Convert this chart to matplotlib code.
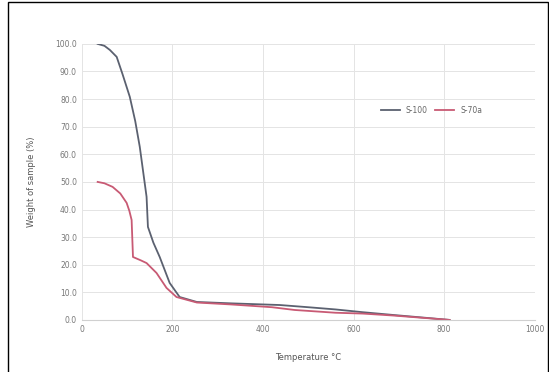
import matplotlib.pyplot as plt
from matplotlib.patches import Rectangle

# Upper (gray) curve
temp_a = [35, 50, 62, 77, 90, 106, 118, 128, 143, 146, 158, 172, 194, 216, 254, 330, 437, 500, 560, 620, 687, 750, 812]
mass_a = [100.0, 99.3, 97.8, 95.3, 89.0, 80.8, 72.0, 62.7, 44.6, 33.7, 28.0, 22.8, 13.4, 8.3, 6.5, 6.0, 5.4, 4.6, 3.8, 2.8, 1.8, 0.9, 0.0]

# Lower (red) curve
temp_b = [35, 50, 68, 85, 99, 105, 110, 113, 130, 143, 165, 187, 209, 254, 330, 420, 470, 560, 620, 687, 750, 812]
mass_b = [50.0, 49.5, 48.2, 45.8, 42.4, 39.5, 36.2, 22.8, 21.6, 20.6, 17.0, 11.6, 8.3, 6.3, 5.6, 4.6, 3.6, 2.6, 2.3, 1.6, 0.8, 0.0]

labels = ["S-100", "S-70a"]
xticks = [0, 200, 400, 600, 800, 1000]
yticks = [0, 10, 20, 30, 40, 50, 60, 70, 80, 90, 100]

fig = plt.figure(figsize=(5.49, 3.72), dpi=100)
ax = fig.add_axes([0.149, 0.140, 0.825, 0.742])

ax.plot(temp_a, mass_a, color="#5b6170", lw=1.3, label=labels[0])
ax.plot(temp_b, mass_b, color="#c85a74", lw=1.3, label=labels[1])

ax.set_xlim(0, 1000)
ax.set_ylim(0, 100)
ax.set_xticks(xticks)
ax.set_yticks(yticks)
ax.set_yticklabels([f"{v:.1f}" for v in yticks])
ax.tick_params(labelsize=5.5, colors="#777777", length=0)
ax.grid(color="#e4e4e4", lw=0.7)
for s in ax.spines.values():
    s.set_visible(False)
ax.spines["bottom"].set_visible(True)
ax.spines["bottom"].set_color("#d0d0d0")

ax.set_xlabel("Temperature °C", fontsize=6, color="#555555", labelpad=14)
ax.set_ylabel("Weight of sample (%)", fontsize=6, color="#555555", labelpad=14)

ax.legend(loc="upper right", bbox_to_anchor=(0.90, 0.80), ncol=2, frameon=False,
          fontsize=5.5, handlelength=2.5, columnspacing=1.0, labelcolor="#666666")

fig.patches.append(Rectangle((0.014, -0.01), 0.984, 1.005, transform=fig.transFigure,
                             fill=False, edgecolor="black", lw=1.0))

fig.savefig("out.png", dpi=100)
